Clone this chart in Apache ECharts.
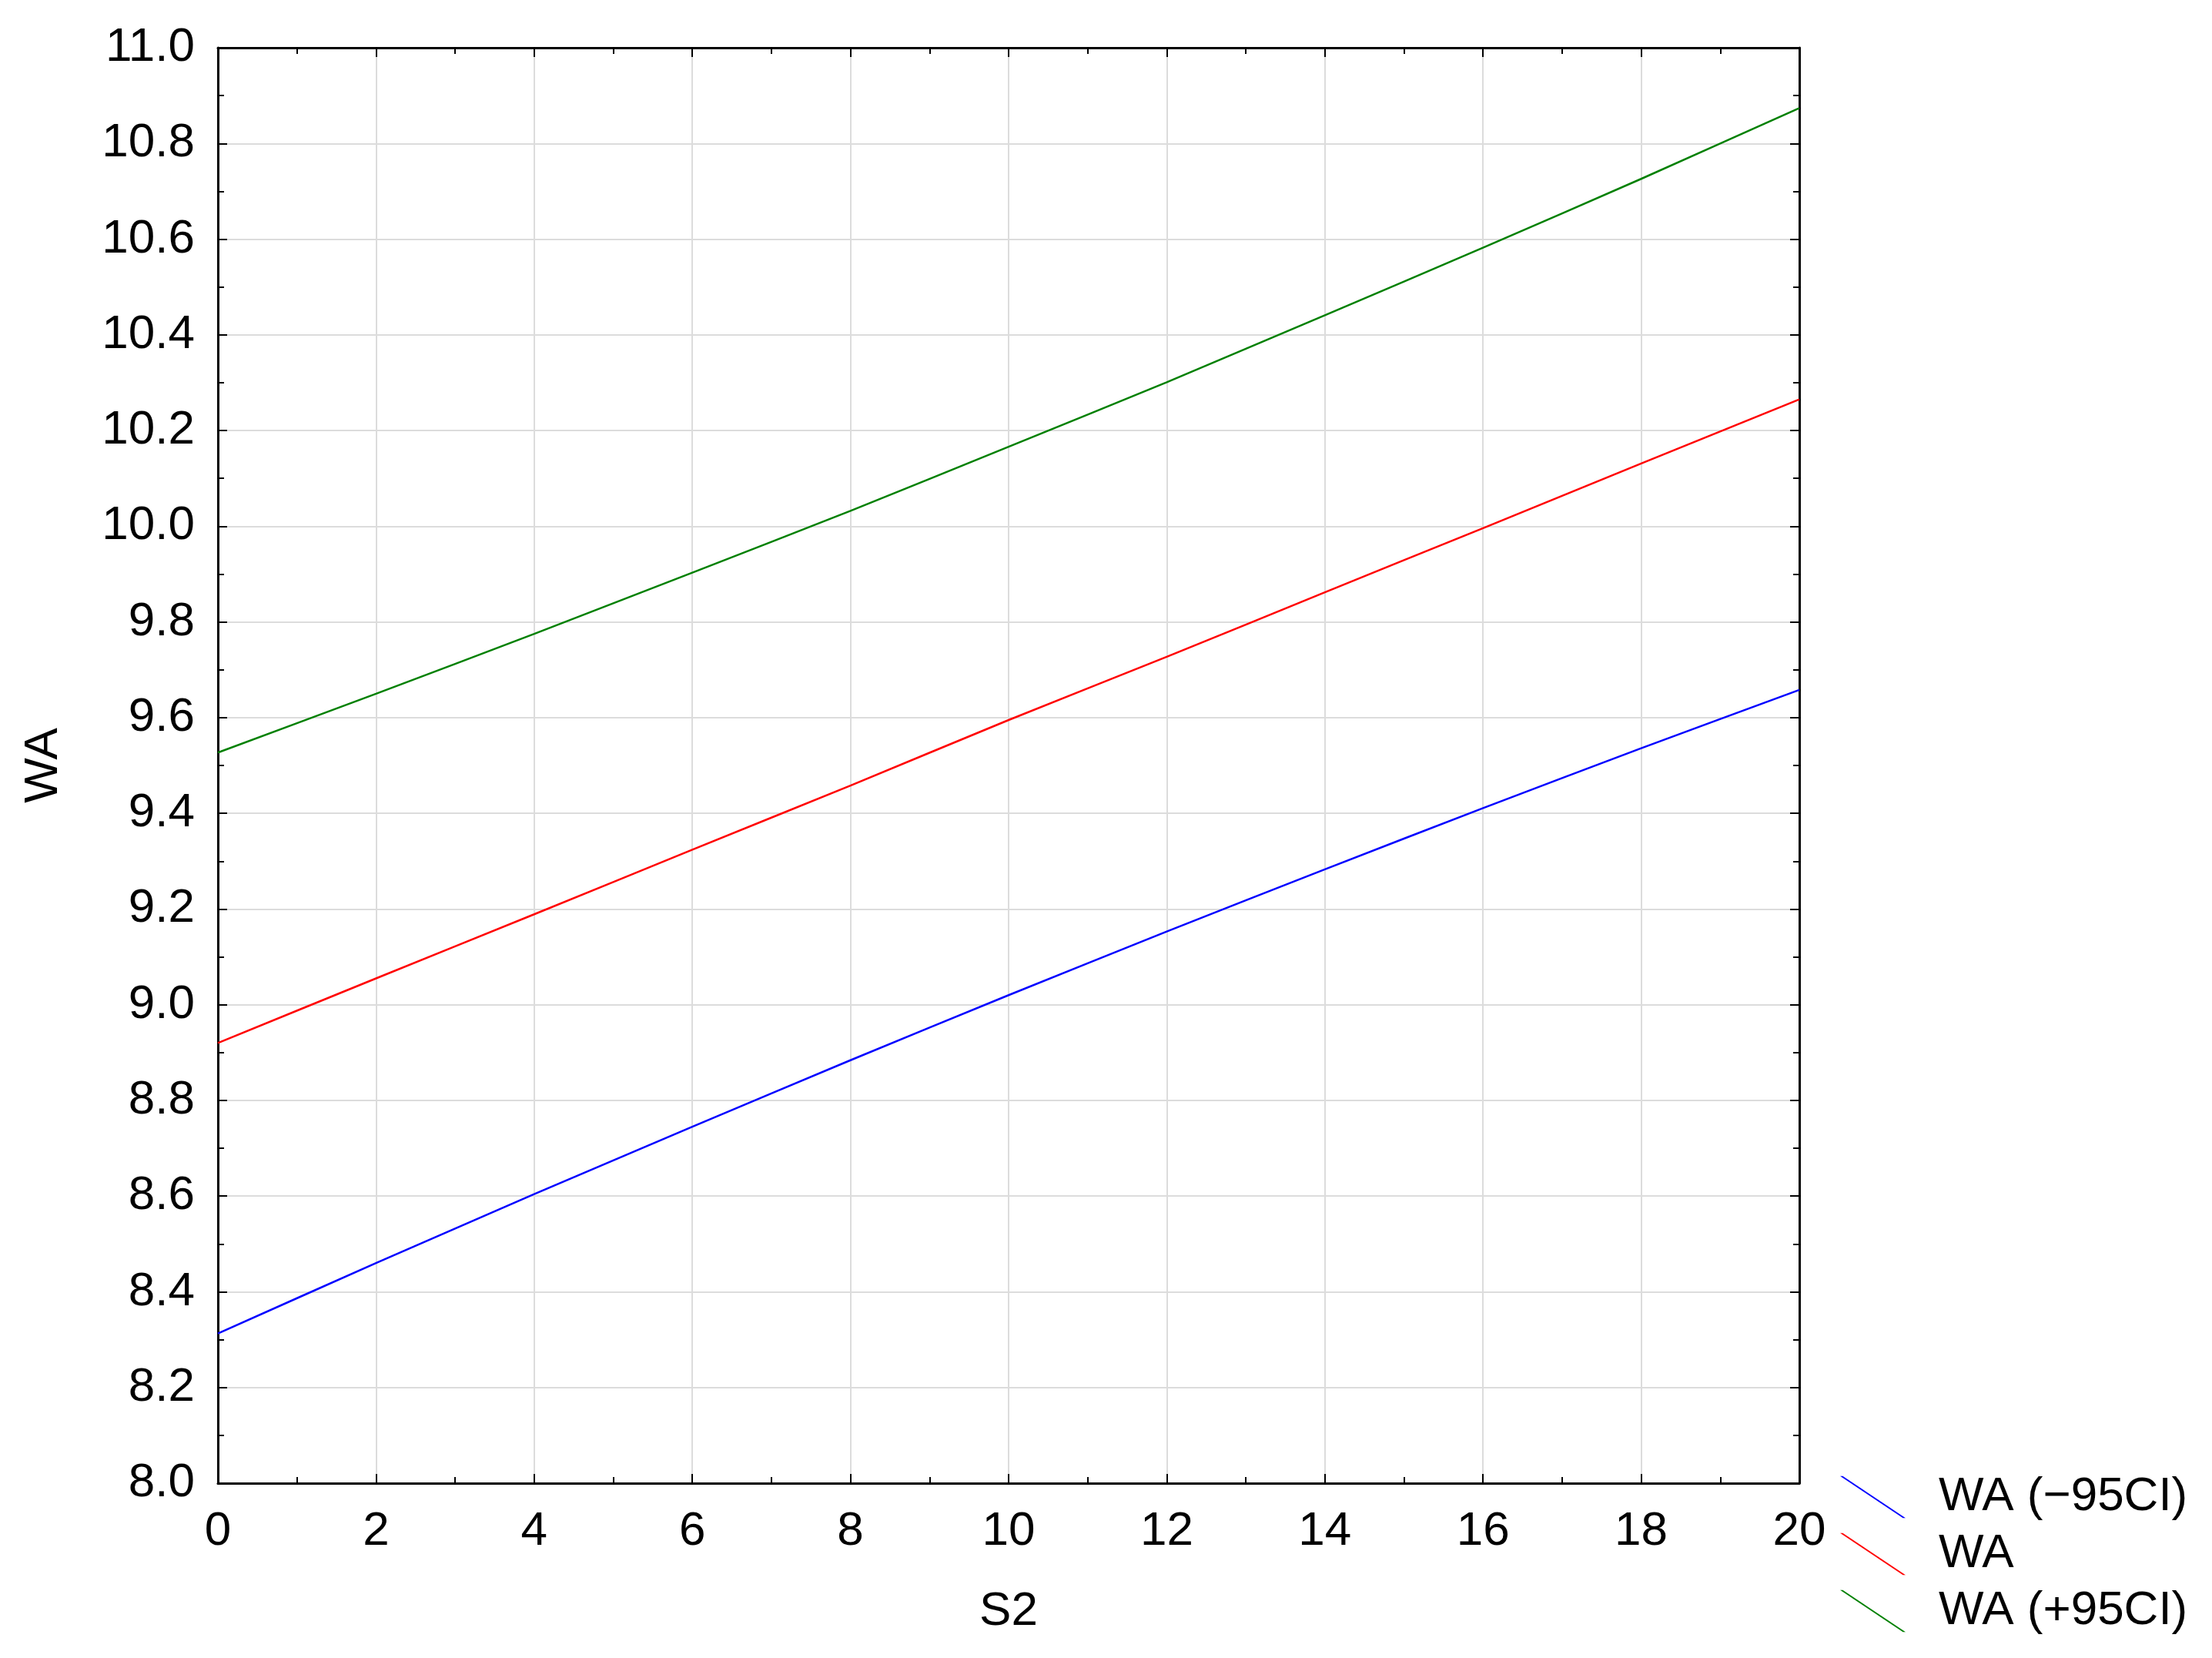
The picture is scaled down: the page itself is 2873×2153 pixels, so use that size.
<!DOCTYPE html>
<html>
<head>
<meta charset="utf-8">
<script src="https://cdn.jsdelivr.net/npm/echarts@6/dist/echarts.min.js"></script>
<style>
html,body{margin:0;padding:0;background:#fff;}
#chart{width:2873px;height:2153px;}
</style>
</head>
<body>
<div id="chart"></div>
<script>
// Data
const xValues = [0, 2, 4, 6, 8, 10, 12, 14, 16, 18, 20];
const waLower = [8.313, 8.460, 8.604, 8.745, 8.884, 9.020, 9.153, 9.283, 9.411, 9.536, 9.658];
const waMean  = [8.920, 9.055, 9.189, 9.324, 9.458, 9.595, 9.727, 9.862, 9.996, 10.131, 10.265];
const waUpper = [9.527, 9.650, 9.775, 9.903, 10.032, 10.166, 10.301, 10.441, 10.582, 10.726, 10.874];
const seriesNames = ['WA (\u221295CI)', 'WA', 'WA (+95CI)'];
const seriesColors = ['#0000ff', '#ff0000', '#008000'];
const xAxisTitle = 'S2';
const yAxisTitle = 'WA';

const FONT = 'Liberation Sans, Arial, sans-serif';
const pairs = (ys) => xValues.map((x, i) => [x, ys[i]]);
const allY = [waLower, waMean, waUpper];

const chart = echarts.init(document.getElementById('chart'), null, {renderer: 'canvas'});

const tickCommon = {
  axisLine: {show: true, onZero: false, lineStyle: {color: '#000', width: 3}},
  axisTick: {show: true, inside: true, length: 12, lineStyle: {color: '#000', width: 2}},
  minorTick: {show: true, splitNumber: 2, length: 8, lineStyle: {color: '#000', width: 2}},
};

chart.setOption({
  backgroundColor: '#ffffff',
  animation: false,
  grid: {left: 283, right: 536, top: 62, bottom: 227, containLabel: false},
  legend: {
    orient: 'vertical',
    left: 2385,
    top: 1908,
    itemWidth: 85,
    itemHeight: 55,
    itemGap: 12,
    icon: 'path://M0,0L4,0L100,64L96,64Z',
    itemStyle: {borderWidth: 0},
    textStyle: {fontFamily: FONT, fontSize: 62, color: '#000', lineHeight: 60, padding: [0, 0, 0, 38]},
    data: seriesNames
  },
  xAxis: [
    Object.assign({
      type: 'value', position: 'bottom', min: 0, max: 20, interval: 2,
      name: xAxisTitle, nameLocation: 'middle', nameGap: 136,
      nameTextStyle: {fontFamily: FONT, fontSize: 62, color: '#000'},
      axisLabel: {fontFamily: FONT, fontSize: 62, color: '#000', margin: 32},
      splitLine: {show: true, lineStyle: {color: '#dcdcdc', width: 2}}
    }, tickCommon),
    Object.assign({
      type: 'value', position: 'top', min: 0, max: 20, interval: 2,
      axisLabel: {show: false}, splitLine: {show: false}
    }, tickCommon)
  ],
  yAxis: [
    Object.assign({
      type: 'value', position: 'left', min: 8, max: 11, interval: 0.2,
      name: yAxisTitle, nameLocation: 'middle', nameGap: 195,
      nameTextStyle: {fontFamily: FONT, fontSize: 62, color: '#000'},
      axisLabel: {fontFamily: FONT, fontSize: 62, color: '#000', margin: 30,
        formatter: (v) => v.toFixed(1)},
      splitLine: {show: true, lineStyle: {color: '#dcdcdc', width: 2}}
    }, tickCommon),
    Object.assign({
      type: 'value', position: 'right', min: 8, max: 11, interval: 0.2,
      axisLabel: {show: false}, splitLine: {show: false}
    }, tickCommon)
  ],
  series: seriesNames.map((name, i) => ({
    name: name,
    type: 'line',
    xAxisIndex: 0,
    yAxisIndex: 0,
    data: pairs(allY[i]),
    showSymbol: false,
    symbol: 'none',
    smooth: 0.2,
    color: seriesColors[i],
    itemStyle: {color: seriesColors[i]},
    lineStyle: {color: seriesColors[i], width: 2.5},
    z: 5
  }))
});
</script>
</body>
</html>
